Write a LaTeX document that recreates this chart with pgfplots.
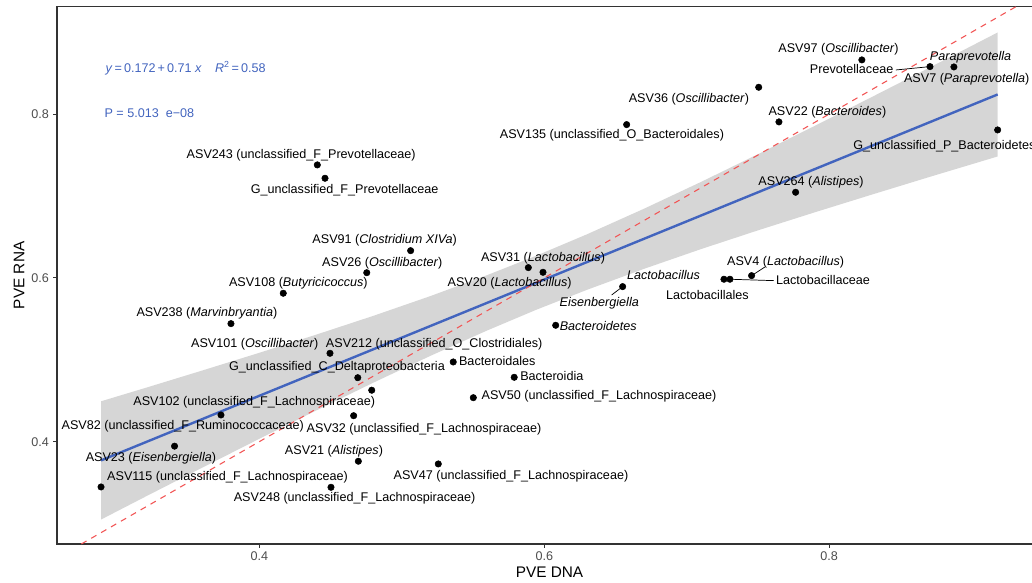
\documentclass[border=0pt]{standalone}
\usepackage{fontspec}
\setmainfont{Liberation Sans}
\usepackage{pgfplots}
\usepackage{pgfplotstable}
\pgfplotsset{compat=1.18}

\definecolor{axisgrey}{RGB}{51,51,51}
\definecolor{tickgrey}{RGB}{77,77,77}
\definecolor{bandgrey}{RGB}{153,153,153}
\definecolor{fitblue}{RGB}{66,100,190}
\definecolor{refred}{RGB}{242,85,85}

% PVE of each taxon: DNA (x) vs RNA (y)
\pgfplotstableread{
x y
0.8229 0.8661
0.8707 0.8579
0.8875 0.8575
0.7505 0.8327
0.7647 0.7904
0.6578 0.7871
0.9182 0.7806
0.7764 0.7045
0.4407 0.7379
0.4461 0.7216
0.5062 0.6332
0.4754 0.6063
0.4168 0.5812
0.3801 0.5441
0.4496 0.5079
0.4691 0.4781
0.4789 0.4628
0.4662 0.4317
0.3731 0.4326
0.3405 0.3945
0.2889 0.3447
0.4503 0.3443
0.4695 0.3761
0.5256 0.3728
0.5502 0.4537
0.5361 0.4973
0.5789 0.4786
0.6080 0.5421
0.5888 0.6125
0.5991 0.6068
0.6550 0.5893
0.7261 0.5983
0.7303 0.5983
0.7455 0.6027
}\pvepoints

\begin{document}
\begin{tikzpicture}[
  lab/.style={font=\fontsize{10.5}{12}\selectfont, inner sep=0pt, text height=7.6pt, text depth=2.2pt},
  seg/.style={black, line width=0.6pt}]
\begin{axis}[
  at={(0,0)}, anchor=south west,
  scale only axis, width=820.8pt, height=447.75pt,
  xmin=0.2580, xmax=0.9493, ymin=0.2751, ymax=0.9311,
  axis line style={draw=axisgrey, line width=0.9pt},
  xtick={0.4,0.6,0.8}, ytick={0.4,0.6,0.8},
  tick pos=left, tick align=outside, major tick length=3.3pt,
  tick style={axisgrey, line width=0.9pt},
  ticklabel style={font=\fontsize{10.5}{12}\selectfont, text=tickgrey},
  /pgf/number format/assume math mode=true,
  xlabel={PVE DNA}, ylabel={PVE RNA},
  label style={font=\fontsize{12.8}{15}\selectfont},
  xlabel style={at={(axis description cs:0.5,-0.0527)}, anchor=center},
  ylabel style={at={(axis description cs:-0.0384,0.5)}, anchor=center},
  clip=false,
]
\coordinate (bl) at (rel axis cs:0,0);

\addplot[only marks, mark=*, mark size=2.7pt, mark options={draw=black, fill=black}] table {\pvepoints};

% confidence band of the fit
\addplot[draw=none, fill=bandgrey, fill opacity=0.4] coordinates {
(0.2889,0.4493) (0.32,0.4656) (0.36,0.4869) (0.40,0.5085) (0.44,0.5307)
(0.48,0.5536) (0.52,0.5777) (0.56,0.6034) (0.5942,0.6269) (0.63,0.6532)
(0.67,0.6844) (0.71,0.7171) (0.75,0.7510) (0.79,0.7857) (0.83,0.8209)
(0.87,0.8564) (0.9182,0.8996)
(0.9182,0.7482) (0.87,0.7230) (0.83,0.7017) (0.79,0.6801) (0.75,0.6580)
(0.71,0.6351) (0.67,0.6110) (0.63,0.5854) (0.5942,0.5609) (0.56,0.5358)
(0.52,0.5047) (0.48,0.4720) (0.44,0.4381) (0.40,0.4035) (0.36,0.3683)
(0.32,0.3328) (0.2889,0.3049)
} -- cycle;

\addplot[fitblue, line width=2pt] coordinates {(0.2889,0.3771) (0.9182,0.8239)};
\addplot[refred, line width=0.9pt, dash pattern=on 5pt off 4.5pt] coordinates {(0.2751,0.2751) (0.9311,0.9311)};

% label leaders
\draw[seg] (axis cs:0.8467,0.8538) -- (axis cs:0.8707,0.8579);
\draw[seg] (axis cs:0.6473,0.5791) -- (axis cs:0.6550,0.5893);
\draw[seg] (axis cs:0.7612,0.5966) -- (axis cs:0.7303,0.5983);
\draw[seg] (axis cs:0.7549,0.6133) -- (axis cs:0.7455,0.6027);

\node[lab] at (axis cs:0.8065,0.8795) {ASV97 (\textit{Oscillibacter})};
\node[lab] at (axis cs:0.8992,0.8691) {\textit{Paraprevotella}};
\node[lab] at (axis cs:0.8157,0.8538) {Prevotellaceae};
\node[lab] at (axis cs:0.8965,0.8425) {ASV7 (\textit{Paraprevotella})};
\node[lab] at (axis cs:0.7015,0.8184) {ASV36 (\textit{Oscillibacter})};
\node[lab] at (axis cs:0.7987,0.8026) {ASV22 (\textit{Bacteroides})};
\node[lab] at (axis cs:0.6475,0.7745) {ASV135 (unclassified\_O\_Bacteroidales)};
\node[lab, anchor=west] at (axis cs:0.8168,0.7602) {G\_unclassified\_P\_Bacteroidetes};
\node[lab] at (axis cs:0.7872,0.7167) {ASV264 (\textit{Alistipes})};
\node[lab] at (axis cs:0.4294,0.7501) {ASV243 (unclassified\_F\_Prevotellaceae)};
\node[lab] at (axis cs:0.4599,0.7073) {G\_unclassified\_F\_Prevotellaceae};
\node[lab] at (axis cs:0.4880,0.6454) {ASV91 (\textit{Clostridium XIVa})};
\node[lab] at (axis cs:0.4863,0.6178) {ASV26 (\textit{Oscillibacter})};
\node[lab] at (axis cs:0.4274,0.5934) {ASV108 (\textit{Butyricicoccus})};
\node[lab] at (axis cs:0.3632,0.5563) {ASV238 (\textit{Marvinbryantia})};
\node[lab] at (axis cs:0.3968,0.5193) {ASV101 (\textit{Oscillibacter})};
\node[lab] at (axis cs:0.5227,0.5187) {ASV212 (unclassified\_O\_Clostridiales)};
\node[lab] at (axis cs:0.4545,0.4904) {G\_unclassified\_C\_Deltaproteobacteria};
\node[lab] at (axis cs:0.5670,0.4973) {Bacteroidales};
\node[lab] at (axis cs:0.6053,0.4786) {Bacteroidia};
\node[lab] at (axis cs:0.6384,0.4558) {ASV50 (unclassified\_F\_Lachnospiraceae)};
\node[lab] at (axis cs:0.3964,0.4485) {ASV102 (unclassified\_F\_Lachnospiraceae)};
\node[lab] at (axis cs:0.3463,0.4183) {ASV82 (unclassified\_F\_Ruminococcaceae)};
\node[lab] at (axis cs:0.5156,0.4151) {ASV32 (unclassified\_F\_Lachnospiraceae)};
\node[lab] at (axis cs:0.3239,0.3797) {ASV23 (\textit{Eisenbergiella})};
\node[lab] at (axis cs:0.4524,0.3883) {ASV21 (\textit{Alistipes})};
\node[lab] at (axis cs:0.5766,0.3573) {ASV47 (unclassified\_F\_Lachnospiraceae)};
\node[lab] at (axis cs:0.3777,0.3565) {ASV115 (unclassified\_F\_Lachnospiraceae)};
\node[lab] at (axis cs:0.4669,0.3309) {ASV248 (unclassified\_F\_Lachnospiraceae)};
\node[lab] at (axis cs:0.6837,0.6023) {\textit{Lactobacillus}};
\node[lab] at (axis cs:0.6386,0.5690) {\textit{Eisenbergiella}};
\node[lab] at (axis cs:0.6379,0.5392) {\textit{Bacteroidetes}};
\node[lab] at (axis cs:0.5991,0.6239) {ASV31 (\textit{Lactobacillus})};
\node[lab] at (axis cs:0.5757,0.5934) {ASV20 (\textit{Lactobacillus})};
\node[lab] at (axis cs:0.7694,0.6194) {ASV4 (\textit{Lactobacillus})};
\node[lab] at (axis cs:0.7956,0.5962) {Lactobacillaceae};
\node[lab] at (axis cs:0.7145,0.5779) {Lactobacillales};

\node[lab, anchor=west, text=fitblue] at (axis cs:0.2919,0.8551)
  {\textit{y}\,=\,0.172\,+\,0.71\ \textit{x}\hspace{11pt}\textit{R}\textsuperscript{2}\,=\,0.58};
\node[lab, anchor=west, text=fitblue] at (axis cs:0.2912,0.7993) {P = 5.013\ \ e−08};
\end{axis}
\pgfresetboundingbox
\path[use as bounding box] ([xshift=-47.5pt,yshift=-32.5pt]bl) rectangle ([xshift=812.5pt,yshift=453.3pt]bl);
\end{tikzpicture}
\end{document}
